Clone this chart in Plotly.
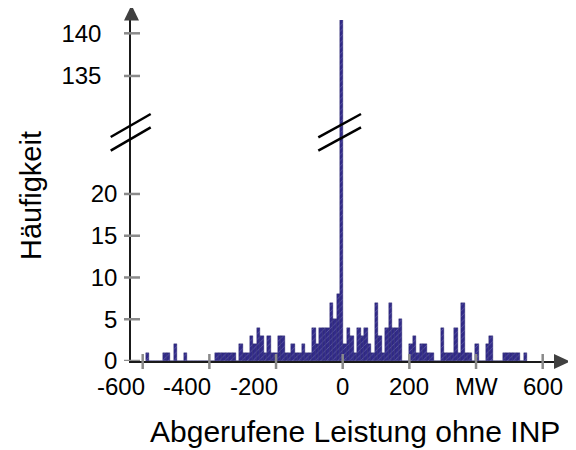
import plotly.graph_objects as go

# ---------------- data ----------------
bin_lo = -590.6      # left edge of first histogram bin, MW
bin_width = 10.4     # bin width, MW
counts = [
    1, 0, 0, 0, 0, 1, 1, 0, 2, 0,
    0, 1, 0, 0, 0, 0, 0, 0, 0, 0,
    1, 1, 1, 1, 1, 1, 0, 2, 1, 1,
    3, 2, 4, 3, 1, 3, 1, 1, 3, 3,
    1, 1, 2, 1, 1, 2, 1, 1, 4, 2,
    4, 4, 4, 7, 5, 8, 142, 2, 4, 3,
    1, 4, 3, 4, 2, 1, 7, 3, 1, 4,
    7, 4, 4, 5, 0, 0, 2, 3, 1, 2,
    2, 1, 1, 0, 0, 4, 1, 1, 1, 4,
    1, 7, 1, 1, 0, 2, 0, 0, 2, 3,
    0, 0, 0, 1, 1, 1, 1, 1, 0, 1,
]
x_tickvals = [-600, -400, -200, 0, 200, 400, 600]
x_ticktext = ["-600", "-400", "-200", "0", "200", "MW", "600"]
y_low_ticks = [0, 5, 10, 15, 20]
y_high_ticks = [135, 140]
x_title = "Abgerufene Leistung ohne INP"
y_title = "Häufigkeit"

centers = [bin_lo + bin_width * (i + 0.5) for i in range(len(counts))]

# ---------------- layout geometry (screen pixels) ----------------
OFF = 8                       # page body margin of the browser
W, H = 576 - OFF, 450 - OFF
PL, PR, PT, PB = 131, 554, 20, 361   # plot area on screen
PW, PH = PR - PL, PB - PT
split = (PB - 132) / PH               # domain boundary of the broken axis
x_range = [-635.1, 633.9]
y_low_range = [0, 27.42]
y_high_range = [128.43, 141.56]

FONT = "Liberation Sans, Arial, sans-serif"
BAR = "#322b88"

def px(xs):
    return (xs - PL) / PW

def py(ys):
    return (PB - ys) / PH

bar_kw = dict(
    x=centers, y=counts, width=bin_width,
    marker=dict(color=BAR, line=dict(color="#1e1862", width=0.4),
                pattern=dict(shape="/", fgcolor="#8a88c4", bgcolor=BAR,
                             size=4, solidity=0.22)),
    showlegend=False, hoverinfo="x+y",
)

fig = go.Figure()
fig.add_trace(go.Bar(xaxis="x", yaxis="y", **bar_kw))
fig.add_trace(go.Bar(xaxis="x", yaxis="y2", **bar_kw))

axis_line = dict(showline=True, linecolor="#1a1a1a", linewidth=1.5,
                 showgrid=False, zeroline=False, ticks="",
                 tickfont=dict(family=FONT, size=24, color="#000"))

fig.update_layout(
    width=W, height=H,
    margin=dict(l=PL - OFF, r=W - (PR - OFF), t=PT - OFF, b=H - (PB - OFF)),
    paper_bgcolor="white", plot_bgcolor="white",
    bargap=0,
    xaxis=dict(range=x_range, tickvals=x_tickvals, showticklabels=False,
               anchor="y", **axis_line),
    yaxis=dict(domain=[0, split], range=y_low_range, tickvals=y_low_ticks,
               anchor="x", ticklabelstandoff=7, **axis_line),
    yaxis2=dict(domain=[split, 1], range=y_high_range, tickvals=y_high_ticks,
                anchor="x", ticklabelstandoff=23, **axis_line),
)

shapes = []
TICKC = "#8a8a8a"
for v in y_low_ticks:
    shapes.append(dict(type="line", xref="paper", yref="y", xsizemode="pixel",
                       xanchor=0, x0=-7, x1=9, y0=v, y1=v,
                       line=dict(color=TICKC, width=2.5)))
for v in y_high_ticks:
    shapes.append(dict(type="line", xref="paper", yref="y2", xsizemode="pixel",
                       xanchor=0, x0=-7, x1=9, y0=v, y1=v,
                       line=dict(color=TICKC, width=2.5)))
for v in x_tickvals:
    shapes.append(dict(type="line", xref="x", yref="paper", ysizemode="pixel",
                       yanchor=0, y0=-8, y1=7, x0=v, x1=v,
                       line=dict(color=TICKC, width=2.5)))

# axis arrows
shapes.append(dict(type="path", xref="paper", yref="paper",
                   path=f"M {px(124)},{py(20.5)} L {px(139)},{py(20.5)} L {px(131.5)},{py(5)} Z",
                   fillcolor="#404040", line=dict(width=0)))
shapes.append(dict(type="path", xref="paper", yref="paper",
                   path=f"M {px(554)},{py(354)} L {px(554)},{py(369)} L {px(570)},{py(361.5)} Z",
                   fillcolor="#404040", line=dict(width=0)))

# break marks
for (x0, y0, x1, y1) in [(110.7, 137, 150.7, 114), (110.7, 150.7, 150.7, 127.3),
                         (318.3, 137.3, 361, 114), (318.3, 150.7, 361, 127.3)]:
    shapes.append(dict(type="line", xref="paper", yref="paper",
                       x0=px(x0), y0=py(y0), x1=px(x1), y1=py(y1),
                       line=dict(color="#000", width=2.5)))
fig.update_layout(shapes=shapes)

# x tick labels (negative labels sit to the left of their tick, as in the original)
for v, t in zip(x_tickvals, x_ticktext):
    neg = v < 0
    fig.add_annotation(text=t, xref="x", yref="paper", x=v, y=py(386),
                       xanchor="right" if neg else "center", yanchor="middle",
                       xshift=4 if neg else 0, showarrow=False,
                       font=dict(family=FONT, size=24, color="#000"))

fig.add_annotation(text=y_title, textangle=-90, xref="paper", yref="paper",
                   x=px(31), y=py(196), xanchor="center", yanchor="middle",
                   showarrow=False,
                   font=dict(family=FONT, size=29, color="#000"))
fig.add_annotation(text=x_title, xref="paper", yref="paper",
                   x=px(355), y=py(431), xanchor="center", yanchor="middle",
                   showarrow=False,
                   font=dict(family=FONT, size=30, color="#000"))

fig.write_html("out.html")
